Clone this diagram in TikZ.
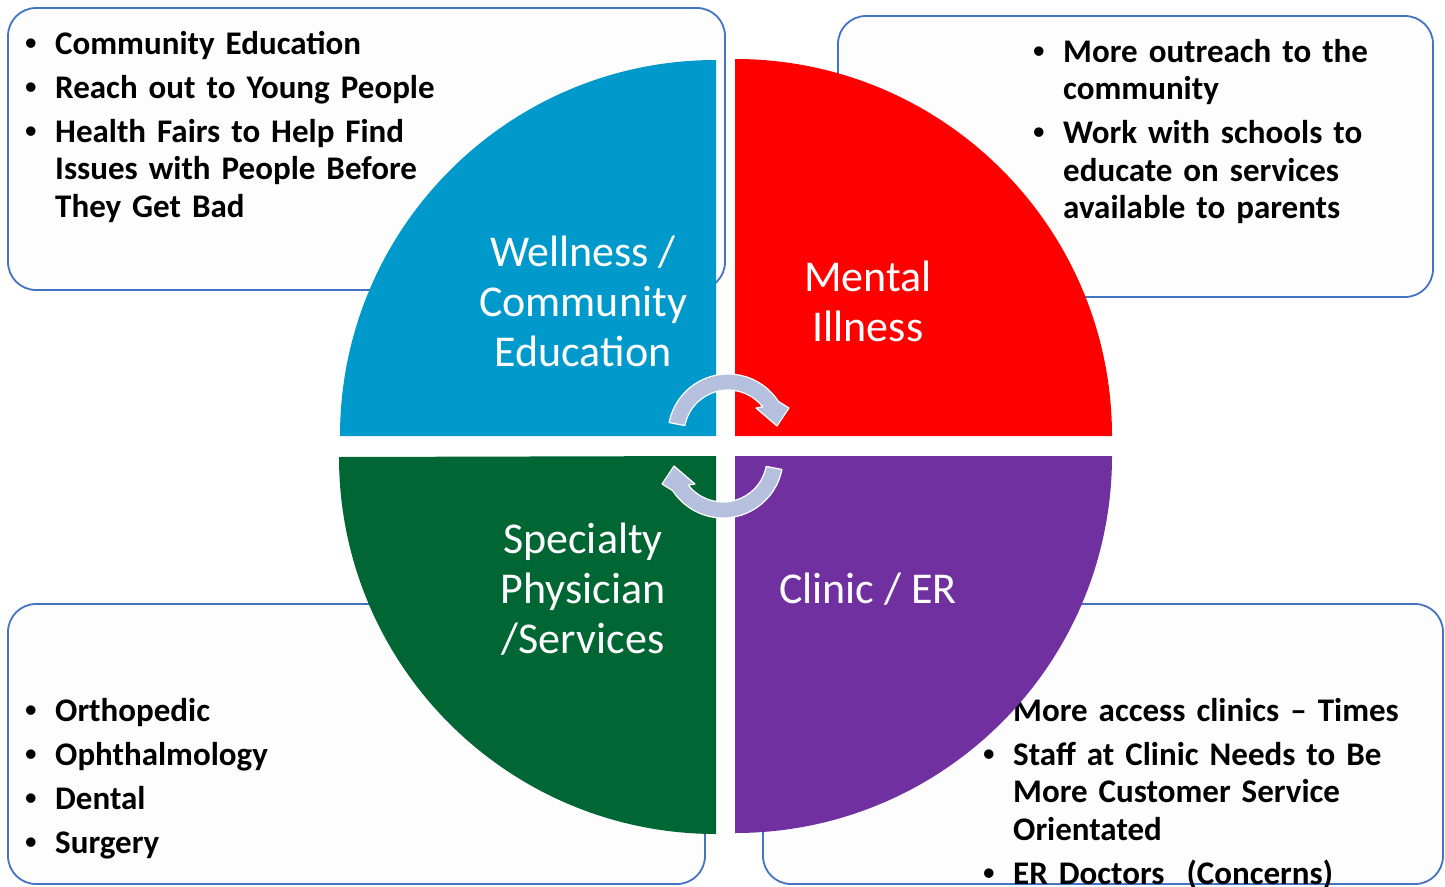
\documentclass[tikz,border=0pt]{standalone}
\usepackage{fontspec}
\setmainfont{Carlito}
\newfontfamily\bulfont{Liberation Sans}
\definecolor{qblue}{RGB}{0,153,204}
\definecolor{qred}{RGB}{255,0,0}
\definecolor{qgreen}{RGB}{0,102,51}
\definecolor{qpurple}{RGB}{112,48,160}
\definecolor{boxline}{RGB}{68,114,196}
\definecolor{boxfill}{RGB}{253,253,253}
\definecolor{arrowfill}{RGB}{180,192,222}
\newlength{\bulind}
\setlength{\bulind}{31pt}
\newcommand{\bulmark}{\makebox[\bulind][l]{\hspace{1pt}{\bulfont\textbullet}}}
\newcommand{\firstbul}{\noindent\hangindent=\bulind\hangafter=1\bulmark}
\newcommand{\bul}{\par\noindent\hangindent=\bulind\hangafter=1\bulmark}
\tikzset{
  infobox/.style={draw=boxline, fill=boxfill, line width=1.8pt, rounded corners=28pt},
  listtext/.style={anchor=base west, inner sep=0pt, text width=#1, align=left,
     font=\fontsize{33}{37.5}\selectfont\bfseries\setlength{\parskip}{6.5pt}},
  quadlabel/.style={anchor=base, inner sep=0pt, text width=320pt, align=flush center, text=white,
     font=\fontsize{44}{50}\selectfont},
  cyclearrowstyle/.style={fill=arrowfill, draw=white, line width=1.2pt, line join=round},
  cyclearrow/.pic={
    \path[cyclearrowstyle] (-169:60) arc[start angle=-169, end angle=-33, radius=60]
      -- (61,-26) -- (49,-8) -- (28,-26) -- (-38:44)
      arc[start angle=-38, end angle=-169, radius=44] -- cycle;
  }
}
\begin{document}
\begin{tikzpicture}[x=1pt,y=-1pt]
\useasboundingbox (0,0) rectangle (1445,886);
\fill[white] (0,0) rectangle (1445,886);
% info boxes
\path[infobox] (8,8) rectangle (725,290);
\path[infobox] (838,16) rectangle (1433,297);
\path[infobox] (8,604) rectangle (705,884);
\path[infobox] (763,604) rectangle (1443,884);
% lists
\node[listtext=660pt] (tl) at (24,54) {%
\firstbul Community Education
\bul Reach out to Young People
\bul Health Fairs to Help Find\newline Issues with People Before\newline They Get Bad\par};
\node[listtext=390pt] (tr) at (1032,62) {%
\firstbul More outreach to the\newline community
\bul Work with schools to\newline educate on services\newline available to parents\par};
\node[listtext=660pt] (bl) at (24,721) {%
\firstbul Orthopedic
\bul Ophthalmology
\bul Dental
\bul Surgery\par};
\node[listtext=440pt] (br) at (982,721) {%
\firstbul More access clinics -- Times
\bul Staff at Clinic Needs to Be\newline More Customer Service\newline Orientated
\bul ER Doctors\ \ (Concerns)\par};
% quadrants
\fill[qblue] (716,436) -- (340,436) arc[start angle=180, end angle=270, radius=376] -- cycle;
\fill[qred] (735,436) -- (735,59) arc[start angle=270, end angle=360, radius=377] -- cycle;
\fill[qpurple] (735,456) -- (1112,456) arc[start angle=0, end angle=90, radius=377] -- cycle;
\fill[qgreen] (716,456) -- (716,834) arc[start angle=90, end angle=180, radius=377] -- cycle;
% quadrant labels
\node[quadlabel] (wellness) at (583,266) {Wellness /\\Community\\Education};
\node[quadlabel] (mental) at (868,291) {Mental\\Illness};
\node[quadlabel] (specialty) at (583,553) {Specialty\\Physician\\/Services};
\node[quadlabel] (clinic) at (868,603) {Clinic / ER};
% cycle arrows
\pic (arrowtop) at (728,434) {cyclearrow};
\pic[rotate=180] (arrowbottom) at (723,458) {cyclearrow};
\end{tikzpicture}
\end{document}
